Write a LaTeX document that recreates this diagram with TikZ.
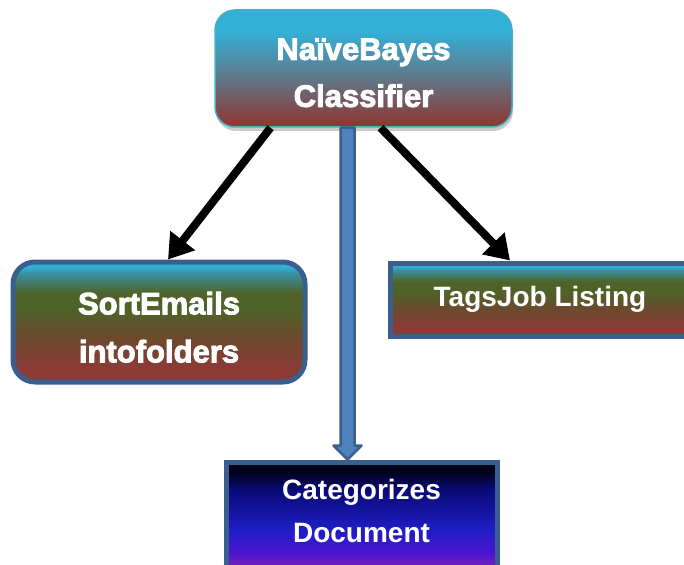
\documentclass[tikz,border=0pt]{standalone}
\usepackage{fontspec}
\setmainfont{Liberation Sans}
\newfontfamily\heavyfont{Liberation Sans}[BoldFont={Liberation Sans Bold},BoldFeatures={FakeBold=3}]
\newfontfamily\boldfont{Liberation Sans Bold}
\usetikzlibrary{positioning,shadows,arrows.meta,calc}

\definecolor{skycyan}{HTML}{33B0D8}
\definecolor{rustred}{HTML}{8C3A36}
\definecolor{slatemid}{HTML}{5F7A8C}
\definecolor{leafolive}{HTML}{4F6228}
\definecolor{leafbrown}{HTML}{6B4A2E}
\definecolor{leafteal}{HTML}{3A8E9E}
\definecolor{boxedge}{HTML}{3B5F8C}
\definecolor{lightedge}{HTML}{4BACC6}
\definecolor{arrowblue}{HTML}{4F81BD}
\definecolor{catblack}{HTML}{000018}
\definecolor{catnavy}{HTML}{0A0A78}
\definecolor{catblue}{HTML}{1E1EC4}
\definecolor{catviolet}{HTML}{4A14D0}
\definecolor{catpurple}{HTML}{7020C0}

\pgfdeclareverticalshading{nbshade}{100bp}{color(0bp)=(rustred); color(27bp)=(rustred); color(47bp)=(slatemid); color(66bp)=(skycyan); color(100bp)=(skycyan)}
\pgfdeclareverticalshading{leafshade}{100bp}{color(0bp)=(rustred); color(30bp)=(rustred); color(44bp)=(leafbrown); color(55bp)=(leafolive); color(62bp)=(leafolive); color(70bp)=(leafteal); color(73bp)=(skycyan); color(100bp)=(skycyan)}
\pgfdeclareverticalshading{catshade}{100bp}{color(0bp)=(catpurple); color(31bp)=(catpurple); color(36bp)=(catviolet); color(46bp)=(catblue); color(63bp)=(catnavy); color(71bp)=(catblack); color(100bp)=(catblack)}

\begin{document}
\begin{tikzpicture}[x=1pt,y=-1pt,on grid,
    nbbox/.style={rectangle,rounded corners=20pt,draw=lightedge,line width=1.5pt,shading=nbshade,
        drop shadow={shadow xshift=1pt,shadow yshift=-4pt,opacity=0.35,fill=black!60},
        minimum width=297pt,minimum height=117pt,align=center,text=white,
        font=\heavyfont\bfseries\fontsize{31}{47}\selectfont},
    leafbox/.style={rectangle,draw=boxedge,line width=5pt,shading=leafshade,align=center,text=white},
    catbox/.style={rectangle,draw=boxedge,line width=5pt,shading=catshade,align=center,text=white,
        minimum width=271pt,minimum height=116pt,font=\boldfont\fontsize{28}{43}\selectfont},
    arr/.style={line width=8pt,-{Triangle[length=24pt,width=30pt]},black},
    blockarr/.style={fill=arrowblue,draw=boxedge,line width=2.5pt,line join=round}]

\useasboundingbox (0,0) rectangle (684,564);

\node[nbbox,text height=77pt] (nb) at (363.5,68.5) {NaïveBayes\\Classifier};
\node[leafbox,rounded corners=22pt,minimum width=292pt,minimum height=120pt,
    font=\heavyfont\bfseries\fontsize{31}{48}\selectfont,text height=81pt,
    below left=253.5pt and 204.5pt of nb] (sort) {SortEmails\\intofolders};
\node[leafbox,minimum width=300pt,minimum height=73pt,
    font=\boldfont\fontsize{28}{34}\selectfont,
    below right=231pt and 176.5pt of nb] (tags) {TagsJob Listing};
\node[catbox,text depth=18pt,below left=451.5pt and 2pt of nb] (cat) {Categorizes\\Document};

\draw[arr] ([xshift=-93pt]nb.south) -- ([xshift=9pt]sort.north);
\draw[arr] ([xshift=17pt]nb.south) -- ([xshift=-30pt]tags.north);

\coordinate (shaft) at ([xshift=-16pt]nb.south);
\coordinate (tip) at ([xshift=-14pt]cat.north);
\draw[blockarr] ($(shaft)+(-7,0)$) -- ($(tip)+(-7,-14)$) -- ($(tip)+(-14,-14)$) -- (tip)
    -- ($(tip)+(14,-14)$) -- ($(tip)+(7,-14)$) -- ($(shaft)+(7,0)$) -- cycle;

\end{tikzpicture}
\end{document}
